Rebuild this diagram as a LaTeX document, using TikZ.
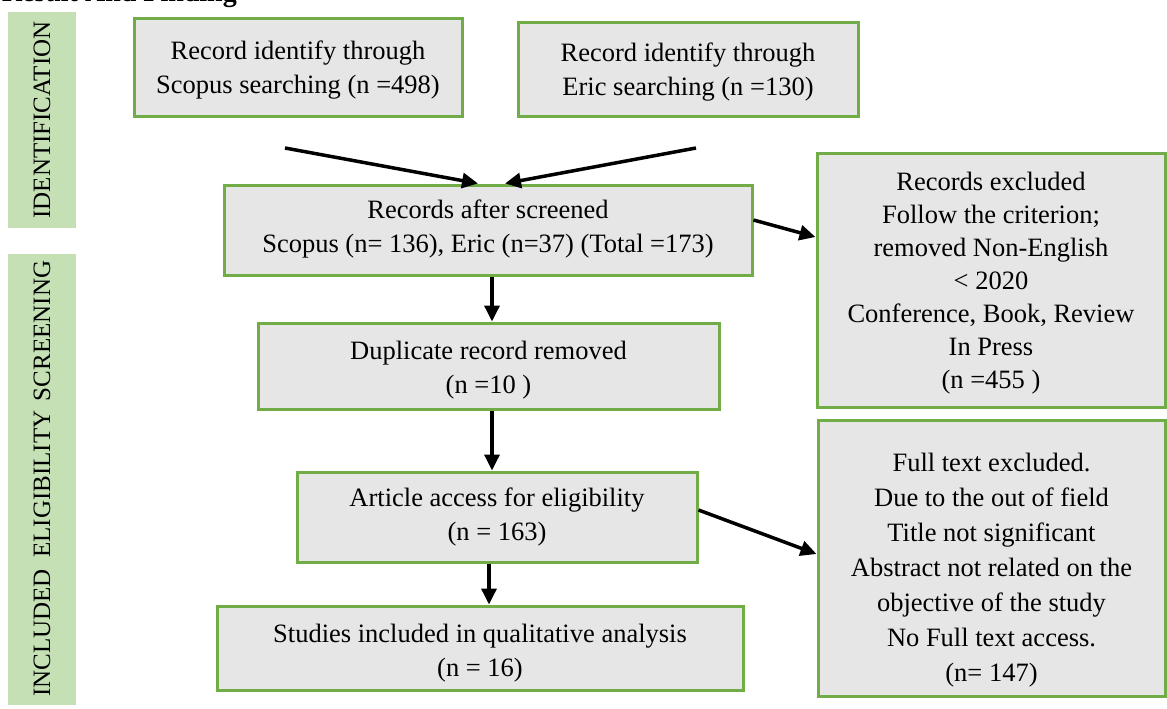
\documentclass[tikz,border=0pt]{standalone}
\usepackage{fontspec}
\setmainfont{Liberation Serif}
\usetikzlibrary{arrows.meta}
\definecolor{boxgreen}{HTML}{70AD47}
\definecolor{boxfill}{HTML}{E6E6E6}
\definecolor{barfill}{HTML}{C5E0B4}
\begin{document}
\begin{tikzpicture}[x=1pt,y=-1pt,
  fbox/.style={draw=boxgreen, line width=3pt, fill=boxfill, inner sep=0pt},
  btext/.style={align=center, inner sep=0pt, font=\fontsize{26.5}{34}\selectfont},
  sidebar/.style={fill=barfill, draw=none, inner sep=0pt},
  sidelabel/.style={rotate=90, font=\fontsize{25}{28}\selectfont, inner sep=0pt},
  arr/.style={line width=3.5pt, -{Triangle[length=16pt,width=15pt]}}]
\useasboundingbox (0,0) rectangle (1167,709);

% heading (cut off at the top, as in the source)
\node[anchor=base east, inner sep=0pt, font=\bfseries\fontsize{28}{30}\selectfont] (title) at (237,2) {Result And Finding};

% side bars
\node[sidebar, minimum width=68pt, minimum height=216pt] (bar1) at (42,120) {};
\node[sidebar, minimum width=68pt, minimum height=451pt] (bar2) at (42,479.5) {};
\node[sidelabel] (lid) at (42,120) {IDENTIFICATION};
\node[sidelabel] (lsc) at (42,331) {SCREENING};
\node[sidelabel] (lel) at (42,484) {ELIGIBILITY};
\node[sidelabel] (lin) at (42,633) {INCLUDED};

% boxes
\node[fbox, minimum width=328pt, minimum height=97pt,
  label={[btext, name=t1, yshift=-3pt]center:{Record identify through\\Scopus searching (n =498)}}] (b1) at (298,67.5) {};
\node[fbox, minimum width=340pt, minimum height=93pt,
  label={[btext, name=t2, yshift=-3pt]center:{Record identify through\\Eric searching (n =130)}}] (b2) at (688,69.5) {};
\node[fbox, minimum width=528pt, minimum height=90pt,
  label={[btext, name=t3, yshift=1pt]center:{Records after screened\\Scopus (n= 136), Eric (n=37) (Total =173)}}] (b3) at (488,230) {};
\node[fbox, minimum width=348pt, minimum height=254pt,
  label={[btext, name=t4, yshift=-3pt, font=\fontsize{26.5}{33}\selectfont]center:{Records excluded\\Follow the criterion;\\removed Non-English\\{<} 2020\\Conference, Book, Review\\In Press\\(n =455 )}}] (b4) at (991,280) {};
\node[fbox, minimum width=461pt, minimum height=86pt,
  label={[btext, name=t6, yshift=-4pt]center:{Duplicate record removed\\(n =10 )}}] (b6) at (488.5,366) {};
\node[fbox, minimum width=400pt, minimum height=90pt,
  label={[btext, name=t7]center:{Article access for eligibility\\(n = 163)}}] (b7) at (497,517) {};
\node[fbox, minimum width=347pt, minimum height=276pt,
  label={[btext, name=t5, yshift=-12pt, font=\fontsize{26.5}{35}\selectfont]center:{Full text excluded.\\Due to the out of field\\Title not significant\\Abstract not related on the\\objective of the study\\No Full text access.\\(n= 147)}}] (b5) at (991.5,558) {};
\node[fbox, minimum width=526pt, minimum height=84pt,
  label={[btext, name=t8, yshift=-5pt]center:{Studies included in qualitative analysis\\(n = 16)}}] (b8) at (480,648) {};

% connectors
\coordinate (s1) at (285,148);
\coordinate (s2) at (696,148);
\draw[arr] (s1) -- ([xshift=-10pt]b3.north);
\draw[arr] (s2) -- ([xshift=17pt]b3.north);
\draw[arr] ([yshift=10pt]b3.east) -- ([yshift=43pt]b4.west);
\draw[arr] ([xshift=4pt]b3.south) -- ([xshift=4pt]b3.south |- b6.north);
\draw[arr] ([xshift=3.5pt]b6.south) -- ([xshift=3.5pt]b6.south |- b7.north);
\draw[arr] ([xshift=-8pt]b7.south) -- ([xshift=-8pt]b7.south |- b8.north);
\draw[arr] ([yshift=7pt]b7.east) -- ([yshift=4pt]b5.west);
\end{tikzpicture}
\end{document}
